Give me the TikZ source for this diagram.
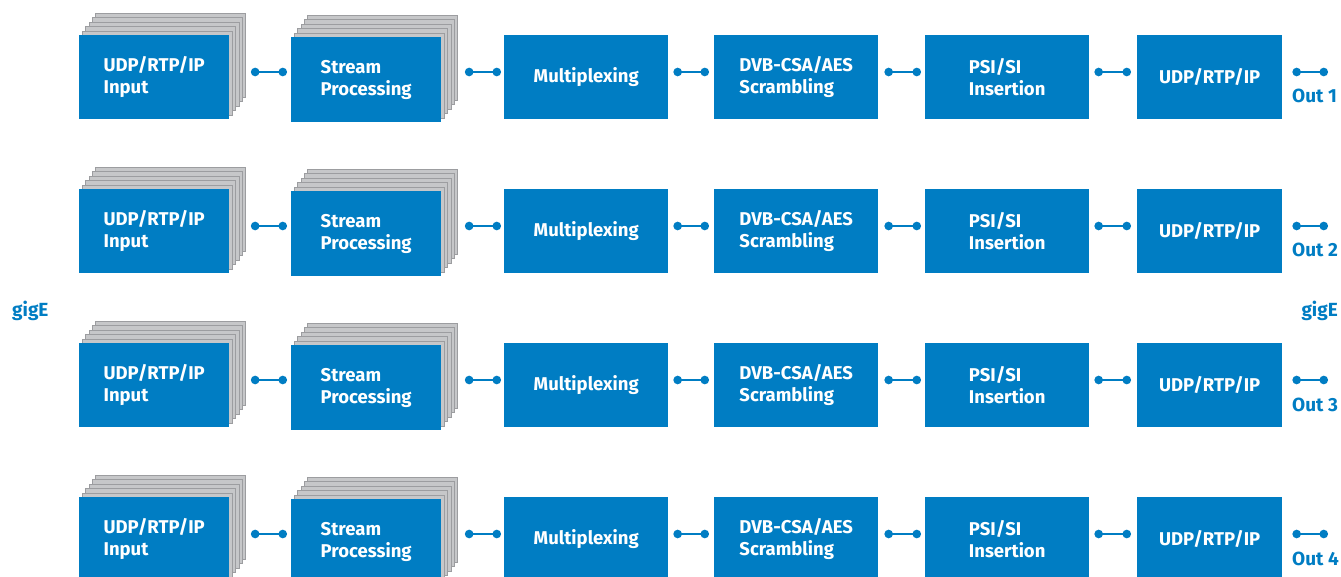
\documentclass[tikz,border=0pt]{standalone}
\usepackage{fontspec}
\setmainfont{Fira Sans}
\usetikzlibrary{arrows.meta,calc}
\definecolor{tblue}{RGB}{0,125,195}
\definecolor{stackfill}{RGB}{198,199,201}
\definecolor{stackline}{RGB}{156,157,160}
\tikzset{
  blockbox/.style={fill=tblue, draw=none, text=white, font=\bfseries\fontsize{18.5}{22}\selectfont, align=left, inner sep=0pt, anchor=north west},
  layer/.style={fill=stackfill, draw=stackline, line width=0.9pt, inner sep=0pt, anchor=north west},
  conn/.style={draw=tblue, line width=1.8pt, {Circle[length=8.5pt]}-{Circle[length=8.5pt]}},
  bluelabel/.style={text=tblue, font=\bfseries\fontsize{19}{22}\selectfont, inner sep=0pt},
}
\begin{document}
\begin{tikzpicture}[x=1pt,y=-1pt]
\useasboundingbox (0,0) rectangle (1341,577);
\foreach \r in {1,...,4}{
  \pgfmathsetmacro{\y}{35+154*(\r-1)}
  \pgfmathsetmacro{\ys}{37+154*(\r-1)}
  \pgfmathsetmacro{\yc}{72+154*(\r-1)}
  \pgfmathsetmacro{\yo}{103+154*(\r-1)}
  \coordinate (c\r) at (0,\yc);
  % stacks behind input
  \foreach \k in {5,4,3,2,1}{
    \node[layer, minimum width=150pt, minimum height=84pt] (in\r L\k) at ({79+3.2*\k},{\y-4.4*\k}) {};
    \node[layer, minimum width=150pt, minimum height=85pt] (sp\r L\k) at ({291+3.2*\k},{\ys-4.4*\k}) {};
  }
  \node[blockbox, minimum width=150pt, minimum height=84pt] (in\r) at (79,\y) {UDP/RTP/IP\\Input};
  \node[blockbox, minimum width=150pt, minimum height=85pt] (sp\r) at (291,\ys) {Stream\\Processing};
  \node[blockbox, minimum width=164pt, minimum height=84pt] (mx\r) at (504,\y) {Multiplexing};
  \node[blockbox, minimum width=164pt, minimum height=84pt] (sc\r) at (714,\y) {DVB-CSA/AES\\Scrambling};
  \node[blockbox, minimum width=164pt, minimum height=84pt] (ps\r) at (925,\y) {PSI/SI\\Insertion};
  \node[blockbox, minimum width=145pt, minimum height=84pt] (ou\r) at (1137,\y) {UDP/RTP/IP};
  \coordinate (end\r) at (1328,\yc);
  \draw[conn] ($(in\r L5.east |- c\r)+(5,0)$) -- ($(sp\r.west |- c\r)+(-4,0)$);
  \draw[conn] ($(sp\r L5.east |- c\r)+(7,0)$) -- ($(mx\r.west |- c\r)+(-3,0)$);
  \draw[conn] ($(mx\r.east |- c\r)+(5,0)$) -- ($(sc\r.west |- c\r)+(-5,0)$);
  \draw[conn] ($(sc\r.east |- c\r)+(6,0)$) -- ($(ps\r.west |- c\r)+(-4,0)$);
  \draw[conn] ($(ps\r.east |- c\r)+(5,0)$) -- ($(ou\r.west |- c\r)+(-6,0)$);
  \draw[conn] ($(ou\r.east |- c\r)+(10,0)$) -- (end\r);
  \node[bluelabel, anchor=base west] (out\r) at (1292,\yo) {Out \r};
}
\node[bluelabel, anchor=base west] (gigl) at (12,316.5) {gigE};
\node[bluelabel, anchor=base east] (gigr) at (1338,316.5) {gigE};
\end{tikzpicture}
\end{document}
